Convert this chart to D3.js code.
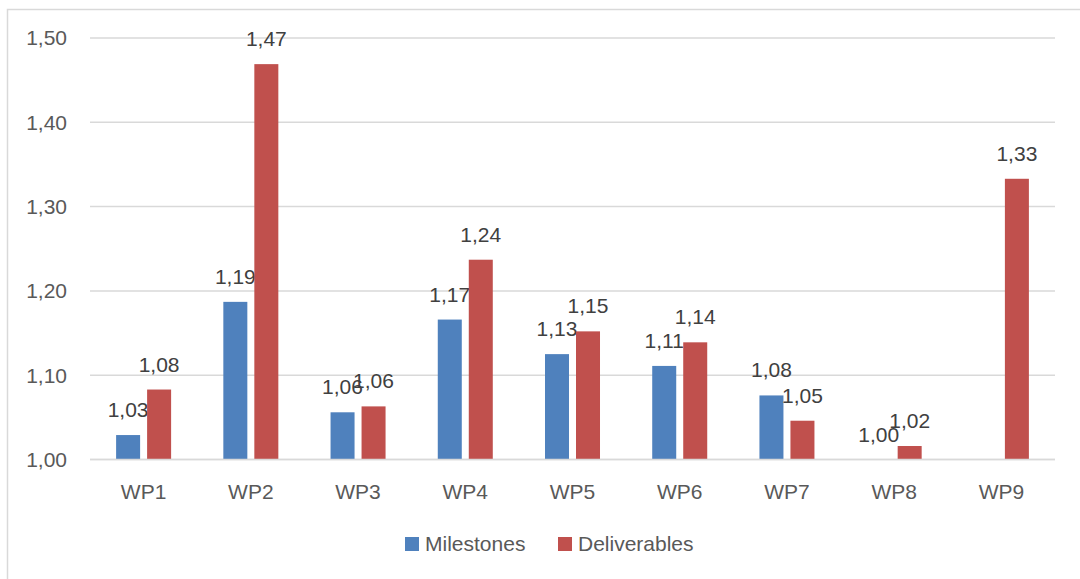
<!DOCTYPE html>
<html>
<head>
<meta charset="utf-8">
<script src="https://cdn.jsdelivr.net/npm/d3@7"></script>
<style>
  body { margin: 0; background: #fff; }
  text { font-family: "Liberation Sans", Arial, sans-serif; }
</style>
</head>
<body>
<script>
// Chart data
var categories = ["WP1", "WP2", "WP3", "WP4", "WP5", "WP6", "WP7", "WP8", "WP9"];
var seriesNames = ["Milestones", "Deliverables"];
var milestones = [1.029, 1.187, 1.056, 1.166, 1.125, 1.111, 1.076, 1.00, null];
var deliverables = [1.083, 1.469, 1.063, 1.237, 1.152, 1.139, 1.046, 1.016, 1.333];
var yTicks = [1.0, 1.1, 1.2, 1.3, 1.4, 1.5];
var colors = ["#4f81bd", "#c0504d"];

var width = 1080, height = 579;

var svg = d3.select("body").append("svg")
    .attr("width", width)
    .attr("height", height);

// chart area border (runs off right/bottom edges)
svg.append("rect")
    .attr("x", 7.5).attr("y", 9.5)
    .attr("width", 1100).attr("height", 600)
    .attr("fill", "none")
    .attr("stroke", "#d9d9d9")
    .attr("stroke-width", 1.5);

var y = d3.scaleLinear().domain([1.0, 1.5]).range([459.5, 38]);

var x0 = d3.scaleBand()
    .domain(categories)
    .range([90, 1055])
    .paddingInner(0.487)
    .paddingOuter(0.2435);

var x1 = d3.scaleBand()
    .domain(seriesNames)
    .range([0, x0.bandwidth()])
    .paddingInner(0.2258);

// gridlines
svg.append("g").selectAll("line")
    .data(yTicks)
    .enter().append("line")
    .attr("x1", 90).attr("x2", 1055)
    .attr("y1", function(d) { return y(d); })
    .attr("y2", function(d) { return y(d); })
    .attr("stroke", "#d9d9d9")
    .attr("stroke-width", 1.5);

// y tick labels
svg.append("g").selectAll("text")
    .data(yTicks)
    .enter().append("text")
    .attr("x", 67)
    .attr("y", function(d) { return y(d); })
    .attr("dy", "0.35em")
    .attr("text-anchor", "end")
    .attr("fill", "#595959")
    .style("font-size", "21px")
    .text(function(d) { return d.toFixed(2).replace(".", ","); });

// x labels
svg.append("g").selectAll("text")
    .data(categories)
    .enter().append("text")
    .attr("x", function(d) { return x0(d) + x0.bandwidth() / 2; })
    .attr("y", 499)
    .attr("text-anchor", "middle")
    .attr("fill", "#595959")
    .style("font-size", "21px")
    .text(function(d) { return d; });

var data = [milestones, deliverables];

data.forEach(function(vals, s) {
  var rows = categories.map(function(c, i) { return { cat: c, v: vals[i] }; })
      .filter(function(d) { return d.v != null; });

  svg.append("g").selectAll("rect")
      .data(rows)
      .enter().append("rect")
      .attr("x", function(d) { return x0(d.cat) + x1(seriesNames[s]); })
      .attr("y", function(d) { return y(d.v); })
      .attr("width", x1.bandwidth())
      .attr("height", function(d) { return y(1.0) - y(d.v); })
      .attr("fill", colors[s]);

  svg.append("g").selectAll("text")
      .data(rows)
      .enter().append("text")
      .attr("x", function(d) { return x0(d.cat) + x1(seriesNames[s]) + x1.bandwidth() / 2; })
      .attr("y", function(d) { return y(d.v) - 18; })
      .attr("text-anchor", "middle")
      .attr("fill", "#404040")
      .style("font-size", "21px")
      .text(function(d) { return d.v.toFixed(2).replace(".", ","); });
});

// x axis baseline over the bars
svg.append("line")
    .attr("x1", 90).attr("x2", 1055)
    .attr("y1", y(1.0)).attr("y2", y(1.0))
    .attr("stroke", "#d9d9d9")
    .attr("stroke-width", 1.5);

// legend
var legendX = [405, 558];
var legend = svg.append("g").selectAll("g")
    .data(seriesNames)
    .enter().append("g")
    .attr("transform", function(d, i) { return "translate(" + legendX[i] + ",537)"; });

legend.append("rect")
    .attr("width", 14).attr("height", 14)
    .attr("fill", function(d, i) { return colors[i]; });

legend.append("text")
    .attr("x", 20).attr("y", 7)
    .attr("dy", "0.35em")
    .attr("fill", "#595959")
    .style("font-size", "21px")
    .text(function(d) { return d; });
</script>
</body>
</html>
